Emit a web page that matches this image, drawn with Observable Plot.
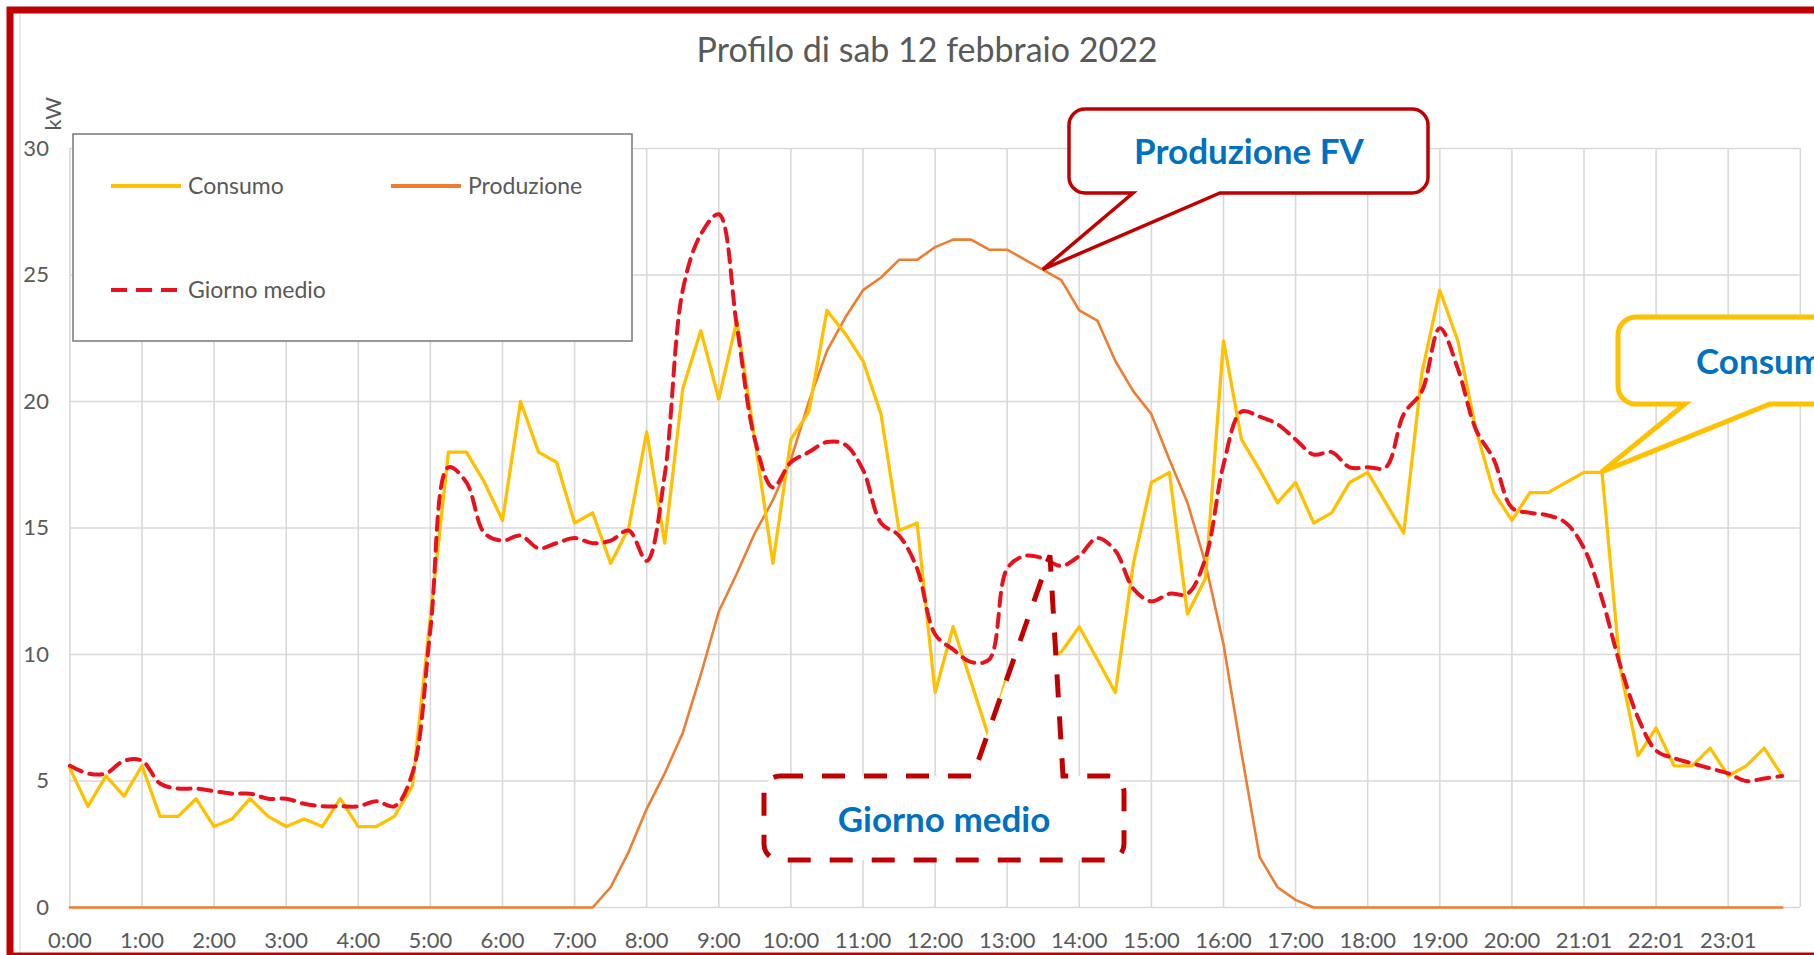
<!DOCTYPE html>
<html>
<head>
<meta charset="utf-8">
<script src="https://cdn.jsdelivr.net/npm/d3@7"></script>
<script src="https://cdn.jsdelivr.net/npm/@observablehq/plot@0.6"></script>
<style>
  html, body { margin: 0; padding: 0; background: #fff; overflow: hidden; }
  #chart { position: relative; width: 1814px; height: 955px; }
</style>
</head>
<body>
<div id="chart"></div>
<script>
// ---- Data (15-minute slots, 0:00 .. 23:45) ----
const hourLabels = ["0:00","1:00","2:00","3:00","4:00","5:00","6:00","7:00","8:00","9:00","10:00","11:00",
  "12:00","13:00","14:00","15:00","16:00","17:00","18:00","19:00","20:00","21:01","22:01","23:01"];
const yTicks = [0, 5, 10, 15, 20, 25, 30];

const consumo = [
  5.5, 4.0, 5.2, 4.4, 5.6, 3.6, 3.6, 4.3, 3.2, 3.5, 4.3, 3.6, 3.2, 3.5, 3.2, 4.3,
  3.2, 3.2, 3.6, 4.8, 11.5, 18.0, 18.0, 16.8, 15.3, 20.0, 18.0, 17.6, 15.2, 15.6, 13.6, 15.0,
  18.8, 14.4, 20.5, 22.8, 20.1, 23.2, 18.5, 13.6, 18.5, 19.6, 23.6, 22.7, 21.6, 19.5, 14.9, 15.2,
  8.5, 11.1, 8.9, 6.7, 9.2, 9.5, 9.8, 10.1, 11.1, 9.8, 8.5, 13.6, 16.8, 17.2, 11.6, 13.0,
  22.4, 18.5, 17.3, 16.0, 16.8, 15.2, 15.6, 16.8, 17.2, 16.0, 14.8, 21.1, 24.4, 22.4, 18.9, 16.4,
  15.3, 16.4, 16.4, 16.8, 17.2, 17.2, 9.5, 6.0, 7.1, 5.6, 5.6, 6.3, 5.2, 5.6, 6.3, 5.2
];
const produzione = [
  0, 0, 0, 0, 0, 0, 0, 0, 0, 0, 0, 0, 0, 0, 0, 0,
  0, 0, 0, 0, 0, 0, 0, 0, 0, 0, 0, 0, 0, 0, 0.8, 2.2,
  3.9, 5.3, 6.9, 9.2, 11.7, 13.2, 14.8, 16.1, 17.7, 20.0, 22.0, 23.3, 24.4, 24.9, 25.6, 25.6,
  26.1, 26.4, 26.4, 26.0, 26.0, 25.6, 25.2, 24.8, 23.6, 23.2, 21.6, 20.4, 19.5, 17.7, 16.0, 13.6,
  10.4, 6.1, 2.0, 0.8, 0.3, 0, 0, 0, 0, 0, 0, 0, 0, 0, 0, 0,
  0, 0, 0, 0, 0, 0, 0, 0, 0, 0, 0, 0, 0, 0, 0, 0
];
const giornoMedio = [
  5.6, 5.3, 5.3, 5.8, 5.8, 4.9, 4.7, 4.7, 4.6, 4.5, 4.5, 4.3, 4.3, 4.1, 4.0, 4.0,
  4.0, 4.2, 4.0, 5.3, 11.0, 17.4, 16.8, 14.8, 14.5, 14.7, 14.2, 14.4, 14.6, 14.4, 14.5, 14.9,
  13.7, 17.1, 24.4, 26.6, 27.4, 23.0, 18.5, 16.6, 17.6, 18.0, 18.4, 18.3, 17.3, 15.2, 14.7, 13.4,
  10.8, 10.2, 9.7, 9.8, 13.4, 13.9, 13.8, 13.5, 13.9, 14.6, 14.1, 12.6, 12.1, 12.4, 12.4, 13.8,
  17.5, 19.6, 19.4, 19.1, 18.5, 17.9, 18.0, 17.4, 17.4, 17.4, 19.5, 20.4, 22.9, 21.3, 18.9, 17.7,
  15.8, 15.6, 15.5, 15.2, 14.2, 12.2, 9.6, 7.5, 6.2, 5.9, 5.7, 5.5, 5.3, 5.0, 5.1, 5.2
];

// annotation anchors in data space (slot index, kW)
const callouts = [
  {label: "Produzione FV", slot: 54, value: 25.2},
  {label: "Giorno medio", slot: 54.4, value: 13.9},
  {label: "Consumo", slot: 85, value: 17.2}
];

const slots = d3.range(consumo.length);
const hourSlots = hourLabels.map((_, i) => i * 4);
const gridSlots = d3.range(0, 97, 4);

const cConsumo = "#FFC000", cProd = "#ED7D31", cMedio = "#E8121E";
const font = "Lato, 'Open Sans', sans-serif";
const grey = "#595959";

const plot = Plot.plot({
  width: 1814,
  height: 955,
  marginLeft: 69.4,
  marginRight: 14.2,
  marginTop: 148,
  marginBottom: 48,
  x: {domain: [0, 96], axis: null},
  y: {domain: [0, 30], axis: null},
  style: {fontFamily: font, fontSize: "22px", color: grey, background: "white", overflow: "visible"},
  marks: [
    Plot.gridX(gridSlots, {stroke: "#d9d9d9", strokeOpacity: 1, strokeWidth: 1.6}),
    Plot.gridY(yTicks, {stroke: "#d9d9d9", strokeOpacity: 1, strokeWidth: 1.6}),
    Plot.axisX(hourSlots, {tickSize: 0, tickPadding: 25, fontSize: 22, fill: grey,
      tickFormat: d => hourLabels[d / 4]}),
    Plot.axisY(yTicks, {tickSize: 0, tickPadding: 21, fontSize: 22, fill: grey}),
    Plot.line(slots, {x: d => d, y: d => produzione[d], stroke: cProd, strokeWidth: 2.6}),
    Plot.line(slots, {x: d => d, y: d => consumo[d], stroke: cConsumo, strokeWidth: 3.3}),
    Plot.line(slots, {x: d => d, y: d => giornoMedio[d], stroke: cMedio, strokeWidth: 4,
      strokeDasharray: "13,8", curve: "catmull-rom"}),
    Plot.text(["Profilo di sab 12 febbraio 2022"], {frameAnchor: "top", dx: -8, dy: -111,
      fontSize: 34, fill: grey}),
    Plot.text(["kW"], {frameAnchor: "top-left", dx: -25, dy: -18, rotate: -90, fontSize: 22, fill: grey})
  ]
});

document.getElementById("chart").appendChild(plot);

// scales for annotation anchors
const sx = plot.scale("x"), sy = plot.scale("y");
const fx = sx.apply ? v => sx.apply(v) : d3.scaleLinear(sx.domain, sx.range);
const fy = sy.apply ? v => sy.apply(v) : d3.scaleLinear(sy.domain, sy.range);

const svg = d3.select(plot);

// legend box
const lg = svg.append("g").attr("font-family", font).attr("font-size", 23).attr("fill", grey)
  .attr("text-anchor", "start");
lg.append("rect").attr("x", 73).attr("y", 134).attr("width", 559).attr("height", 207)
  .attr("fill", "white").attr("stroke", "#808080").attr("stroke-width", 1.6);
const legendItems = [
  {label: "Consumo", color: cConsumo, dash: null, x: 111, y: 186},
  {label: "Produzione", color: cProd, dash: null, x: 391, y: 186},
  {label: "Giorno medio", color: cMedio, dash: "16,9", x: 111, y: 290}
];
for (const it of legendItems) {
  lg.append("line").attr("x1", it.x).attr("x2", it.x + 70).attr("y1", it.y).attr("y2", it.y)
    .attr("stroke", it.color).attr("stroke-width", 4).attr("stroke-dasharray", it.dash);
  lg.append("text").attr("x", it.x + 77).attr("y", it.y).attr("dy", "0.35em")
    .attr("text-anchor", "start").text(it.label);
}

// callout paths
function calloutBottom(x0, y0, x1, y1, r, b0, b1, tx, ty) {
  return `M${x0 + r},${y0}H${x1 - r}A${r},${r} 0 0 1 ${x1},${y0 + r}V${y1 - r}A${r},${r} 0 0 1 ${x1 - r},${y1}` +
    `H${b1}L${tx},${ty}L${b0},${y1}H${x0 + r}A${r},${r} 0 0 1 ${x0},${y1 - r}V${y0 + r}A${r},${r} 0 0 1 ${x0 + r},${y0}Z`;
}
function calloutTop(x0, y0, x1, y1, r, b0, b1, tx, ty) {
  return `M${x0 + r},${y0}H${b0}L${tx},${ty}L${b1},${y0}H${x1 - r}A${r},${r} 0 0 1 ${x1},${y0 + r}V${y1 - r}` +
    `A${r},${r} 0 0 1 ${x1 - r},${y1}H${x0 + r}A${r},${r} 0 0 1 ${x0},${y1 - r}V${y0 + r}A${r},${r} 0 0 1 ${x0 + r},${y0}Z`;
}
const cg = svg.append("g").attr("font-family", font).attr("font-weight", 700).attr("font-size", 35).attr("fill", "#0070C0");

// Produzione FV
{
  const c = callouts[0];
  cg.append("path").attr("d", calloutBottom(1069, 109, 1428, 193, 16, 1133, 1220, fx(c.slot), fy(c.value)))
    .attr("fill", "white").attr("stroke", "#C00000").attr("stroke-width", 3.5).attr("stroke-linejoin", "miter");
  cg.append("text").attr("x", 1249).attr("y", 164).attr("text-anchor", "middle").text(c.label);
}
// Giorno medio
{
  const c = callouts[1];
  cg.append("path").attr("d", calloutTop(764, 776, 1124, 860, 16, 973, 1063, fx(c.slot), fy(c.value)))
    .attr("fill", "white").attr("stroke", "#C00000").attr("stroke-width", 5).attr("stroke-dasharray", "23,19");
  cg.append("text").attr("x", 944).attr("y", 832).attr("text-anchor", "middle").text(c.label);
}
// Consumo
{
  const c = callouts[2];
  cg.append("path").attr("d", calloutBottom(1618, 317, 1960, 404, 18, 1685, 1770, fx(c.slot), fy(c.value)))
    .attr("fill", "white").attr("stroke", cConsumo).attr("stroke-width", 5);
  cg.append("text").attr("x", 1696).attr("y", 374).attr("text-anchor", "start").text(c.label);
}

// slide frame
svg.append("line").attr("x1", 20).attr("x2", 20).attr("y1", 14).attr("y2", 955)
  .attr("stroke", "#e3e3e3").attr("stroke-width", 1.5);
svg.append("rect").attr("x", 10).attr("y", 10).attr("width", 1830).attr("height", 946)
  .attr("fill", "none").attr("stroke", "#C00000").attr("stroke-width", 7);
</script>
</body>
</html>
